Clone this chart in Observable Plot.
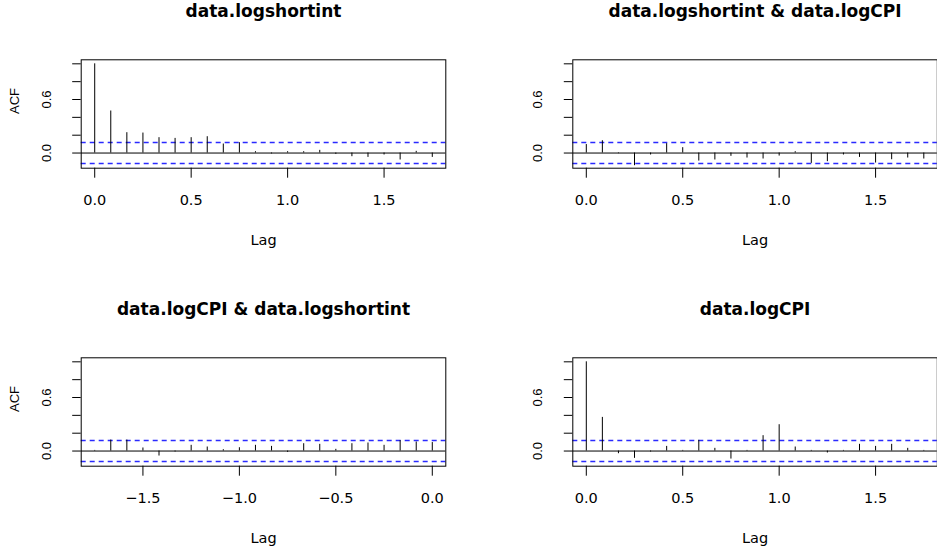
<!DOCTYPE html>
<html>
<head>
<meta charset="utf-8">
<script src="https://cdn.jsdelivr.net/npm/d3@7"></script>
<script src="https://cdn.jsdelivr.net/npm/@observablehq/plot@0.6"></script>
<style>
  html, body { margin: 0; padding: 0; background: #fff; }
  #chart { position: relative; width: 937px; height: 553px; overflow: hidden; background: #fff; }
  #chart svg { position: absolute; }
</style>
</head>
<body>
<div id="chart"></div>
<script>
// Lags in months (monthly series, lag axis in years)
const lagsPos = [0,1,2,3,4,5,6,7,8,9,10,11,12,13,14,15,16,17,18,19,20,21];
const lagsNeg = [-21,-20,-19,-18,-17,-16,-15,-14,-13,-12,-11,-10,-9,-8,-7,-6,-5,-4,-3,-2,-1,0];

// data.logshortint ACF
const acfShortint = [1.0, 0.471, 0.228, 0.224, 0.172, 0.164, 0.172, 0.183, 0.101, 0.116, 0.015,
  -0.01, 0.015, 0.015, 0.03, -0.015, -0.041, -0.049, -0.022, -0.078, 0.019, -0.049];
// data.logshortint & data.logCPI
const ccfShortCPI = [0.095, 0.138, -0.007, -0.142, -0.022, 0.105, 0.06, -0.09, -0.078, -0.037, -0.056,
  -0.067, -0.034, 0.015, -0.116, -0.097, -0.022, -0.049, -0.112, -0.075, -0.056, -0.067];
// data.logCPI & data.logshortint (lags -21..0)
const ccfCPIShort = [0.007, 0.123, 0.123, 0.034, -0.056, -0.011, 0.064, 0.045, 0.015, 0.037, 0.064,
  0.052, -0.015, 0.082, 0.075, 0.019, 0.082, 0.09, 0.064, 0.116, 0.101, 0.095];
// data.logCPI ACF
const acfCPI = [1.0, 0.377, -0.03, -0.082, -0.011, 0.052, 0.007, 0.12, 0.03, -0.09, 0.007,
  0.172, 0.295, 0.045, 0.007, -0.022, 0.007, 0.075, 0.052, 0.075, 0.03, 0.007];

const climUpper = 0.118;  // approximate 95% band
const climLower = -0.118;
const titles = ["data.logshortint", "data.logshortint & data.logCPI", "data.logCPI & data.logshortint", "data.logCPI"];
const xTicksPos = [0, 0.5, 1, 1.5];
const xTicksNeg = [-1.5, -1, -0.5, 0];
const yTicks = [0, 0.2, 0.4, 0.6, 0.8, 1];
const yLabelled = [0, 0.6];
const yDomain = [-0.17, 1.045];

const fmt = d => d.toFixed(1).replace("-", "\u2212");

function panel(cfg) {
  const data = cfg.lags.map((m, i) => ({lag: m / 12, acf: cfg.values[i]}));
  const [fx0, fy0, fx1, fy1] = cfg.frame;
  const dash = {stroke: "#2a2aff", strokeWidth: 1.5, strokeDasharray: "5,4"};
  const marks = [
    Plot.ruleY([climUpper], {y: d => d, ...dash}),
    Plot.ruleY([climLower], {y: d => d, ...dash}),
    Plot.ruleY([0], {stroke: "black"}),
    Plot.ruleX(data, {x: "lag", y1: 0, y2: "acf", stroke: "black"}),
    Plot.frame({stroke: "black"}),
    Plot.axisX({ticks: cfg.xTicks, tickSize: 10, tickPadding: 17, tickFormat: fmt, label: null,
      fontSize: 14.5, fontFamily: "DejaVu Sans"}),
    Plot.axisY({ticks: yTicks, tickSize: 8.5, tickFormat: () => "", label: null}),
    Plot.text(yLabelled, {y: d => d, text: d => fmt(d), frameAnchor: "left", dx: -34.7, rotate: -90,
      textAnchor: "middle", lineAnchor: "middle", fontFamily: "Liberation Sans", fontSize: 13}),
    Plot.text([cfg.title], {text: d => d, frameAnchor: "top", dy: -(fy0 - cfg.titleY), lineAnchor: "bottom",
      fontWeight: "bold", fontSize: 17, fontFamily: "DejaVu Sans"}),
    Plot.text(["Lag"], {text: d => d, frameAnchor: "bottom", dy: 76.3, lineAnchor: "bottom",
      fontSize: 14.5, fontFamily: "DejaVu Sans"})
  ];
  if (cfg.ylab) {
    marks.push(Plot.text(["ACF"], {text: d => d, frameAnchor: "left", dx: -(fx0 - 14), dy: -13, rotate: -90,
      textAnchor: "middle", lineAnchor: "middle", fontFamily: "Liberation Sans", fontSize: 13}));
  }
  const svg = Plot.plot({
    width: cfg.width, height: cfg.height,
    marginLeft: fx0 - cfg.left, marginRight: cfg.left + cfg.width - fx1,
    marginTop: fy0 - cfg.top, marginBottom: cfg.top + cfg.height - fy1,
    x: {domain: cfg.xDomain},
    y: {domain: yDomain},
    style: {background: "transparent", color: "black", fontFamily: "DejaVu Sans", fontSize: "14.5px", overflow: "visible"},
    marks
  });
  svg.style.left = cfg.left + "px";
  svg.style.top = cfg.top + "px";
  return svg;
}

const chart = document.getElementById("chart");
chart.append(panel({left: 0, top: 0, width: 468, height: 276, frame: [80.7, 59.3, 445.3, 167.7],
  lags: lagsPos, values: acfShortint, xDomain: [-0.07, 1.82], xTicks: xTicksPos, title: titles[0], titleY: 16, ylab: true}));
chart.append(panel({left: 468, top: 0, width: 469, height: 276, frame: [572.3, 59.3, 936.8, 167.7],
  lags: lagsPos, values: ccfShortCPI, xDomain: [-0.07, 1.82], xTicks: xTicksPos, title: titles[1], titleY: 16, ylab: false}));
chart.append(panel({left: 0, top: 276, width: 468, height: 277, frame: [80.7, 357.3, 445.3, 465.7],
  lags: lagsNeg, values: ccfCPIShort, xDomain: [-1.82, 0.07], xTicks: xTicksNeg, title: titles[2], titleY: 314, ylab: true}));
chart.append(panel({left: 468, top: 276, width: 469, height: 277, frame: [572.3, 357.3, 936.8, 465.7],
  lags: lagsPos, values: acfCPI, xDomain: [-0.07, 1.82], xTicks: xTicksPos, title: titles[3], titleY: 314, ylab: false}));
</script>
</body>
</html>
